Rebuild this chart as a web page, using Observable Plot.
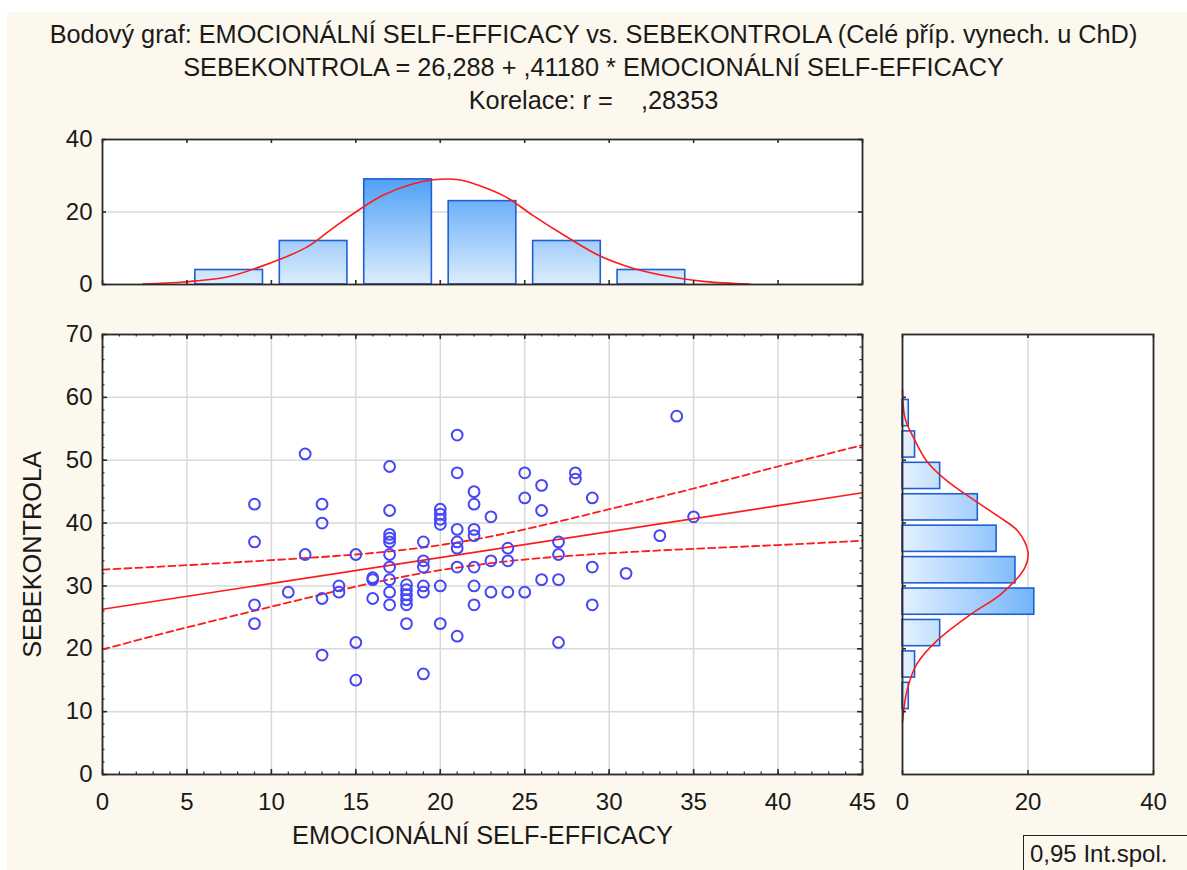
<!DOCTYPE html>
<html><head><meta charset="utf-8">
<script src="https://cdn.jsdelivr.net/npm/d3@7"></script>
<script src="https://cdn.jsdelivr.net/npm/@observablehq/plot@0.6"></script>
<style>
html,body{margin:0;padding:0;background:#fff;}
#page{position:relative;width:1187px;height:870px;overflow:hidden;background:#fff;font-family:"Liberation Sans",Arial,sans-serif;color:#1a1a1a;}
#bg{position:absolute;left:7px;top:12px;right:0;bottom:0;background:#fdf8ee;}
#titles{position:absolute;left:0;top:18px;width:1187px;text-align:center;font-size:25.3px;line-height:33px;white-space:pre;}
.panel{position:absolute;}
#legend{position:absolute;left:1023px;top:835px;width:220px;height:60px;border:1.5px solid #222;box-sizing:border-box;font-size:24px;line-height:28px;padding:4px 0 0 6px;white-space:pre;}
</style></head><body>
<div id="page"><div id="bg"></div>
<div id="titles"></div>
<div id="top" class="panel" style="left:0;top:120px"></div>
<div id="main" class="panel" style="left:0;top:320px"></div>
<div id="side" class="panel" style="left:880px;top:320px"></div>
<div id="legend"></div>
</div>
<script>
// ---------------- data ----------------
const titleLines = [
  "Bodový graf: EMOCIONÁLNÍ SELF-EFFICACY vs. SEBEKONTROLA (Celé příp. vynech. u ChD)",
  "SEBEKONTROLA = 26,288 + ,41180 * EMOCIONÁLNÍ SELF-EFFICACY",
  "Korelace: r =    ,28353"
];
const xAxisLabel = "EMOCIONÁLNÍ SELF-EFFICACY";
const yAxisLabel = "SEBEKONTROLA";
const legendLabel = "0,95 Int.spol.";

// scatter points (EMOCIONÁLNÍ SELF-EFFICACY, SEBEKONTROLA)
const pointX = [9,9,9,9, 11, 12,12, 13,13,13,13, 14,14, 15,15,15, 16,16,16,
  17,17,17,17,17,17,17,17,17,17, 18,18,18,18,18,18, 19,19,19,19,19,19,
  20,20,20,20,20,20, 21,21,21,21,21,21,21, 22,22,22,22,22,22,22,
  23,23,23, 24,24,24, 25,25,25, 26,26,26, 27,27,27,27, 28,28, 29,29,29,
  31, 33, 34, 35];
const pointY = [43,37,27,24, 29, 51,35, 43,40,28,19, 30,29, 35,21,15, 31,31.3,28,
  49,42,38.2,37.6,37,35,33,31,29,27, 30.2,29.4,28.6,27.8,27,24, 37,34,33,30,29,16,
  42.2,41.4,40.6,39.8,30,24, 54,48,39,37,36,33,22, 45,43,39,38,33,30,27,
  41,34,29, 36,34,29, 48,44,29, 46,42,31, 37,35,31,21, 48,47, 44,33,27,
  32, 38, 57, 41];

// regression (from the title) and 0.95 confidence band
const regIntercept = 26.288, regSlope = 0.41180;
const regX = [0, 45];
const bandX = [0,5,10,15,20,25,30,35,40,45];
const bandUpper = [32.6,33.3,34.1,35.0,36.5,39.0,42.2,45.5,49.0,52.4];
const bandLower = [19.9,23.4,26.7,29.9,32.5,34.2,35.2,35.9,36.5,37.2];

// top histogram (EMOCIONÁLNÍ SELF-EFFICACY)
const topBinStart = [5,10,15,20,25,30];
const topBinEnd   = [10,15,20,25,30,35];
const topCounts   = [4,12,29,23,12,4];
const topCurveX = [2.4,4.6,5.5,7.3,9.4,12.1,13.6,15.0,16.6,18.4,19.6,21.1,22.3,23.9,25.5,27.5,29.4,31.4,33.8,35.7,38.3];
const topCurveY = [0.1,0.6,1.0,2.0,5.0,10.3,15.4,20.0,24.6,27.8,28.9,28.9,27.3,24.1,19.0,13.1,8.0,4.5,2.0,0.8,0.1];

// side histogram (SEBEKONTROLA)
const sideBinStart = [55,50,45,40,35,30,25,20,15,10];
const sideBinEnd   = [60,55,50,45,40,35,30,25,20,15];
const sideCounts   = [1,2,6,12,15,18,21,6,2,1];
const sideCurveY     = [61.2,56.7,53.5,49.8,46.7,44.0,41.1,38.7,35.3,32.9,28.7,25.5,21.3,17.6,13.3,8.3];
const sideCurveCount = [0,0.4,1.8,3.9,7.1,10.9,15.2,18.4,20.0,19.5,15.7,10.9,5.5,2.3,0.7,0];

// ticks
const xTicks = [0,5,10,15,20,25,30,35,40,45];
const yTicks = [0,10,20,30,40,50,60,70];
const topYTicks = [0,20,40];
const sideXTicks = [0,20,40];

// ---------------- styles ----------------
const FONT = '"Liberation Sans", Arial, sans-serif';
const frameColor = "#2b2b2b";
const gridColor = "#d9d9d9";
const red = "#ff1a1a";
const barStroke = "#1f5fd6";
const dotColor = "#4646f6";

const points = pointX.map((x, i) => ({x, y: pointY[i]}));
const regLine = regX.map(x => ({x, y: regIntercept + regSlope * x}));
const band = bandX.map((x, i) => ({x, hi: bandUpper[i], lo: bandLower[i]}));
const topBins = topCounts.map((c, i) => ({x1: topBinStart[i], x2: topBinEnd[i], c}));
const topCurve = topCurveX.map((x, i) => ({x, y: topCurveY[i]}));
const sideBins = sideCounts.map((c, i) => ({y1: sideBinStart[i], y2: sideBinEnd[i], c}));
const sideCurve = sideCurveY.map((y, i) => ({y, c: sideCurveCount[i]}));

document.getElementById("titles").textContent = titleLines.join("\n");
document.getElementById("legend").textContent = legendLabel;

const baseStyle = {background: "transparent", fontFamily: FONT, fontSize: "24px", color: "#1a1a1a", overflow: "visible"};

function edgeX(values, len, fh, edge, w = 1.2) {
  return Plot.ruleX(values, {x: d => d, stroke: frameColor, strokeWidth: w,
    ...(edge === "bottom" ? {insetTop: fh - len} : {insetBottom: fh - len})});
}
function edgeY(values, len, fw, edge, w = 1.2) {
  return Plot.ruleY(values, {y: d => d, stroke: frameColor, strokeWidth: w,
    ...(edge === "left" ? {insetRight: fw - len} : {insetLeft: fw - len})});
}
function addGradient(svg, id, x1, y1, x2, y2, c0, c1) {
  const ns = "http://www.w3.org/2000/svg";
  const defs = document.createElementNS(ns, "defs");
  const g = document.createElementNS(ns, "linearGradient");
  g.setAttribute("id", id);
  g.setAttribute("gradientUnits", "userSpaceOnUse");
  g.setAttribute("x1", x1); g.setAttribute("y1", y1);
  g.setAttribute("x2", x2); g.setAttribute("y2", y2);
  [[0, c0], [1, c1]].forEach(([o, c]) => {
    const s = document.createElementNS(ns, "stop");
    s.setAttribute("offset", o); s.setAttribute("stop-color", c);
    g.appendChild(s);
  });
  defs.appendChild(g);
  svg.insertBefore(defs, svg.firstChild);
}

// ---------------- main scatter ----------------
{
  const W = 880, H = 550, m = {l: 102, r: 18, t: 14, b: 96};
  const fw = W - m.l - m.r, fh = H - m.t - m.b;
  const svg = Plot.plot({
    width: W, height: H, marginLeft: m.l, marginRight: m.r, marginTop: m.t, marginBottom: m.b,
    style: baseStyle,
    x: {domain: [0, 45], label: null},
    y: {domain: [0, 70], label: null},
    marks: [
      Plot.frame({fill: "white", stroke: "white"}),
      Plot.gridX(xTicks, {stroke: gridColor, strokeOpacity: 1, strokeWidth: 1.5}),
      Plot.gridY(yTicks, {stroke: gridColor, strokeOpacity: 1, strokeWidth: 1.5}),
      edgeX(d3.range(0, 46, 1), 2.5, fh, "bottom"),
      edgeX(d3.range(0, 46, 1), 2.5, fh, "top"),
      edgeX(xTicks, 5, fh, "bottom", 1.6),
      edgeX(xTicks, 5, fh, "top", 1.6),
      edgeY(d3.range(0, 71, 2), 2.5, fw, "left"),
      edgeY(d3.range(0, 71, 2), 2.5, fw, "right"),
      edgeY(yTicks, 5, fw, "left", 1.6),
      edgeY(yTicks, 5, fw, "right", 1.6),
      Plot.line(band, {x: "x", y: "hi", stroke: red, strokeWidth: 1.8, strokeDasharray: "7,4", curve: "natural"}),
      Plot.line(band, {x: "x", y: "lo", stroke: red, strokeWidth: 1.8, strokeDasharray: "7,4", curve: "natural"}),
      Plot.line(regLine, {x: "x", y: "y", stroke: red, strokeWidth: 1.7}),
      Plot.dot(points, {x: "x", y: "y", r: 5.4, stroke: dotColor, strokeWidth: 2, fill: "none"}),
      Plot.frame({stroke: frameColor, strokeWidth: 1.8}),
      Plot.axisX(xTicks, {tickSize: 0, tickPadding: 18, fontSize: 24, label: null}),
      Plot.axisY(yTicks, {tickSize: 0, tickPadding: 10, fontSize: 24, label: null}),
      Plot.text([xAxisLabel], {frameAnchor: "bottom", dy: 69, fontSize: 25.3, text: d => d}),
      Plot.text([yAxisLabel], {frameAnchor: "left", dx: -70, rotate: -90, textAnchor: "middle", fontSize: 25.3, text: d => d})
    ]
  });
  document.getElementById("main").appendChild(svg);
}

// ---------------- top histogram ----------------
{
  const W = 880, H = 180, m = {l: 102, r: 18, t: 19, b: 16};
  const fw = W - m.l - m.r, fh = H - m.t - m.b;
  const svg = Plot.plot({
    width: W, height: H, marginLeft: m.l, marginRight: m.r, marginTop: m.t, marginBottom: m.b,
    style: baseStyle,
    x: {domain: [0, 45], label: null, axis: null},
    y: {domain: [0, 40], label: null},
    marks: [
      Plot.frame({fill: "white", stroke: "white"}),
      Plot.gridY([20], {stroke: gridColor, strokeOpacity: 1, strokeWidth: 1.5}),
      Plot.rectY(topBins, {x1: "x1", x2: "x2", y: "c", insetLeft: 8.4, insetRight: 8.4,
        fill: "url(#gradTop)", stroke: barStroke, strokeWidth: 1.6}),
      Plot.line(topCurve, {x: "x", y: "y", stroke: red, strokeWidth: 1.6, curve: "catmull-rom"}),
      edgeX(xTicks, 4, fh, "bottom", 1.6),
      edgeX(xTicks, 4, fh, "top", 1.6),
      edgeY(topYTicks, 4, fw, "left", 1.6),
      edgeY(topYTicks, 4, fw, "right", 1.6),
      Plot.frame({stroke: frameColor, strokeWidth: 1.8}),
      Plot.axisY(topYTicks, {tickSize: 0, tickPadding: 10, fontSize: 24, label: null})
    ]
  });
  addGradient(svg, "gradTop", 0, H - m.b, 0, m.t, "#dcedfd", "#1b83f4");
  document.getElementById("top").appendChild(svg);
}

// ---------------- side histogram ----------------
{
  const W = 307, H = 550, m = {l: 22, r: 34, t: 14, b: 96};
  const fw = W - m.l - m.r, fh = H - m.t - m.b;
  const svg = Plot.plot({
    width: W, height: H, marginLeft: m.l, marginRight: m.r, marginTop: m.t, marginBottom: m.b,
    style: baseStyle,
    x: {domain: [0, 40], label: null},
    y: {domain: [0, 70], label: null, axis: null},
    marks: [
      Plot.frame({fill: "white", stroke: "white"}),
      Plot.gridX([20], {stroke: gridColor, strokeOpacity: 1, strokeWidth: 1.5}),
      Plot.rectX(sideBins, {y1: "y1", y2: "y2", x: "c", insetTop: 2.6, insetBottom: 2.6,
        fill: "url(#gradSide)", stroke: barStroke, strokeWidth: 1.6}),
      Plot.line(sideCurve, {x: "c", y: "y", stroke: red, strokeWidth: 1.6, curve: "catmull-rom"}),
      edgeY(yTicks.slice(1, -1), 4, fw, "left", 1.6),
      edgeX(sideXTicks, 4, fh, "bottom", 1.6),
      edgeX(sideXTicks, 4, fh, "top", 1.6),
      Plot.frame({stroke: frameColor, strokeWidth: 1.8}),
      Plot.axisX(sideXTicks, {tickSize: 0, tickPadding: 18, fontSize: 24, label: null})
    ]
  });
  addGradient(svg, "gradSide", m.l, 0, W - m.r, 0, "#e4f1fe", "#0a7ef4");
  document.getElementById("side").appendChild(svg);
}
</script>
</body></html>
